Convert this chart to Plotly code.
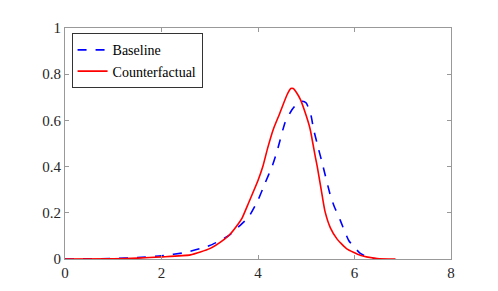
import plotly.graph_objects as go

baseline_x = [0, 1.0, 1.5, 2.0, 2.5, 2.8, 3.0, 3.2, 3.4, 3.6, 3.8, 4.0, 4.15, 4.3, 4.4, 4.56, 4.7, 4.8, 4.92, 5.0, 5.1, 5.15, 5.25, 5.33, 5.5, 5.57, 5.71, 5.88, 6.0, 6.12, 6.25, 6.4, 6.6]
baseline_y = [0, 0.002, 0.006, 0.014, 0.028, 0.045, 0.058, 0.078, 0.102, 0.14, 0.18, 0.255, 0.33, 0.405, 0.47, 0.59, 0.645, 0.67, 0.683, 0.675, 0.62, 0.563, 0.48, 0.416, 0.275, 0.233, 0.165, 0.08, 0.05, 0.024, 0.01, 0.002, 0]

counter_x = [0, 1.0, 1.5, 2.0, 2.6, 3.0, 3.3, 3.42, 3.6, 3.67, 3.8, 3.87, 4.0, 4.1, 4.2, 4.32, 4.45, 4.6, 4.68, 4.73, 4.8, 4.88, 5.0, 5.08, 5.19, 5.23, 5.33, 5.39, 5.5, 5.64, 5.84, 6.12, 6.47, 6.85]
counter_y = [0, 0.001, 0.004, 0.009, 0.018, 0.045, 0.085, 0.107, 0.155, 0.177, 0.24, 0.275, 0.34, 0.40, 0.48, 0.563, 0.63, 0.71, 0.738, 0.738, 0.72, 0.69, 0.62, 0.563, 0.44, 0.398, 0.275, 0.205, 0.135, 0.086, 0.044, 0.016, 0.002, 0]

x_ticks = [0, 2, 4, 6, 8]
y_ticks = [0, 0.2, 0.4, 0.6, 0.8, 1]
y_tick_labels = ["0", "0.2", "0.4", "0.6", "0.8", "1"]

font = "Times New Roman, Liberation Serif, DejaVu Serif, serif"

fig = go.Figure()
fig.add_trace(go.Scatter(x=baseline_x, y=baseline_y, mode="lines", name="Baseline",
                         line=dict(color="#0000ff", width=1.6, dash="dash",
                                   shape="spline", smoothing=0.5)))
fig.add_trace(go.Scatter(x=counter_x, y=counter_y, mode="lines", name="Counterfactual",
                         line=dict(color="#ff0000", width=1.6,
                                   shape="spline", smoothing=0.5)))

axis_common = dict(showgrid=False, zeroline=False, showline=True, linecolor="#999999",
                   linewidth=1, mirror="ticks", ticks="inside", ticklen=4,
                   tickcolor="#999999", tickfont=dict(family=font, size=15, color="#262626"))

fig.update_layout(
    width=498, height=291,
    margin=dict(l=57, r=55, t=13, b=40),
    paper_bgcolor="white", plot_bgcolor="white",
    font=dict(family=font),
    showlegend=True,
    legend=dict(x=0.017, y=0.977, xanchor="left", yanchor="top",
                bgcolor="white", bordercolor="#333333", borderwidth=1,
                font=dict(family=font, size=14, color="#000000"),
                tracegroupgap=0, itemwidth=30),
    xaxis=dict(range=[0, 8], tickvals=x_ticks, **axis_common),
    yaxis=dict(range=[0, 1], tickvals=y_ticks, ticktext=y_tick_labels, **axis_common),
)

fig.write_html("out.html")
